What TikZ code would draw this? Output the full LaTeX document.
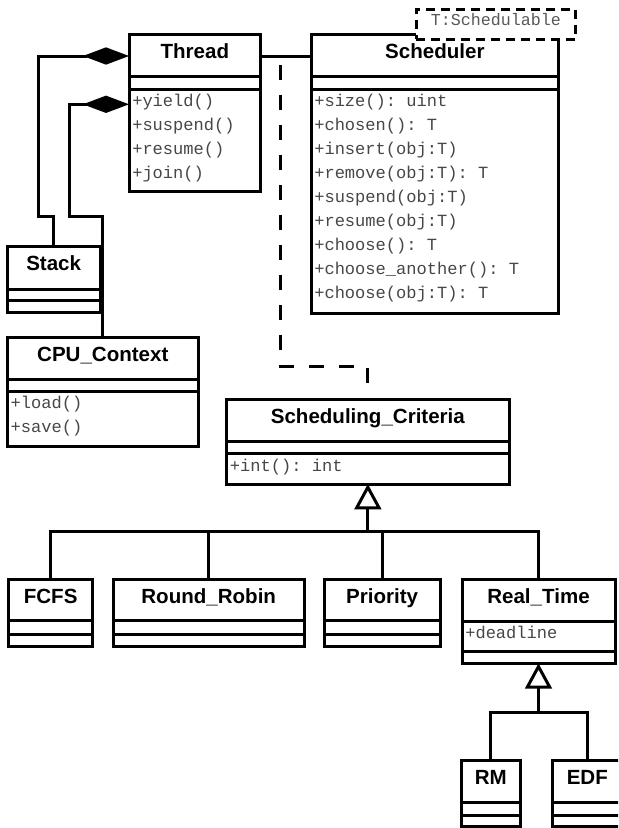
\documentclass[tikz,border=0pt]{standalone}
\usepackage{fontspec}
\setmainfont{Liberation Sans}
\setmonofont{Liberation Mono}
\usetikzlibrary{arrows.meta,calc}
\newcommand\umlbox[5]{\node[clsbox,minimum width={(#4-#2)*0.75pt},minimum height={(#5-#3)*0.75pt}] (#1) at (#2,#3) {};}
\newcommand\umlsep[2]{\draw[sepline] (#1.west |- 0,#2) -- (#1.east |- 0,#2);}
\begin{document}
\begin{tikzpicture}[x=0.75pt,y=-0.75pt,
  clsbox/.style={draw,line width=2.25pt,fill=white,inner sep=0pt,outer sep=0pt,anchor=north west},
  sepline/.style={line width=2.25pt},
  ttl/.style={anchor=base,inner sep=0pt,font=\fontsize{15.4}{18}\selectfont\bfseries},
  meth/.style={anchor=base west,inner sep=0pt,text=black!72,font=\ttfamily\fontsize{12.8}{15}\selectfont},
  conn/.style={line width=2.25pt},
  aggr/.style={conn,-{Diamond[length=34.5pt,width=13pt]}},
  inh/.style={conn,-{Triangle[open,length=19pt,width=20pt,fill=white]}},
  dep/.style={conn,dash pattern=on 11.25pt off 11.25pt,dash phase=15.75pt},
  tmplbox/.style={draw,dash pattern=on 6.75pt off 4.5pt,line width=2.25pt,fill=white,inner sep=0pt,outer sep=0pt,anchor=north west}]
\useasboundingbox (0,0) rectangle (618,828);
\fill[white] (0,0) rectangle (618,828);
\clip (0,0) rectangle (618,828);

% Thread
\umlbox{thread}{129}{34.3}{260.7}{191.7}
\umlsep{thread}{76}\umlsep{thread}{89}
\node[ttl] (threadT) at ($(thread.north)+(0,24)$) {Thread};
\foreach \t [count=\i from 0] in {+yield(),+suspend(),+resume(),+join()}
  \node[meth] (thread-m\i) at ($(thread.north west)+(3,71.7+24*\i)$) {\t};

% Scheduler
\umlbox{sched}{311}{34.3}{558.7}{313.3}
\umlsep{sched}{76}\umlsep{sched}{89}
\node[ttl] (schedT) at ($(sched.north)+(0,24)$) {Scheduler};
\foreach \t [count=\i from 0] in {+size(): uint,+chosen(): T,+insert(obj:T),+remove(obj:T): T,+suspend(obj:T),+resume(obj:T),+choose(): T,+choose\_another(): T,+choose(obj:T): T}
  \node[meth] (sched-m\i) at ($(sched.north west)+(3,71.7+24*\i)$) {\t};

% Template parameter
\node[tmplbox,minimum width={(575.7-416)*0.75pt},minimum height={(39.3-9.3)*0.75pt}] (tmpl) at (416,9.3) {};
\node[meth,anchor=base,text=black!65,font=\ttfamily\fontsize{12.5}{15}\selectfont] (tmplT) at ($(tmpl.north)+(0,16.7)$) {T:Schedulable};

% Stack
\umlbox{stack}{7.3}{246}{100}{312.3}
\umlsep{stack}{289}\umlsep{stack}{300.3}
\node[ttl] (stackT) at ($(stack.north)+(0,24)$) {Stack};

% CPU_Context
\umlbox{cpu}{7.3}{337.3}{198.3}{446}
\umlsep{cpu}{379.3}\umlsep{cpu}{391}
\node[ttl] (cpuT) at ($(cpu.north)+(0,24)$) {CPU\_Context};
\foreach \t [count=\i from 0] in {+load(),+save()}
  \node[meth] (cpu-m\i) at ($(cpu.north west)+(3,71+24*\i)$) {\t};

% Scheduling_Criteria
\umlbox{sc}{226.7}{399.3}{509}{484}
\umlsep{sc}{441}\umlsep{sc}{453.3}
\node[ttl] (scT) at ($(sc.north)+(0,24)$) {Scheduling\_Criteria};
\node[meth] (sc-m0) at ($(sc.north west)+(3,71.7)$) {+int(): int};

% Children
\umlbox{fcfs}{8.7}{579.3}{92.6}{646}
\umlsep{fcfs}{620.7}\umlsep{fcfs}{634}
\node[ttl] (fcfsT) at ($(fcfs.north)+(0,24)$) {FCFS};

\umlbox{rr}{113.1}{579.3}{304.3}{646}
\umlsep{rr}{620.7}\umlsep{rr}{634}
\node[ttl] (rrT) at ($(rr.north)+(0,24)$) {Round\_Robin};

\umlbox{pr}{324}{579.3}{440.3}{646}
\umlsep{pr}{620.7}\umlsep{pr}{634}
\node[ttl] (prT) at ($(pr.north)+(0,24)$) {Priority};

\umlbox{rt}{462}{579.3}{615}{663.3}
\umlsep{rt}{621.7}\umlsep{rt}{651}
\node[ttl] (rtT) at ($(rt.north)+(0,24)$) {Real\_Time};
\node[meth] (rt-a0) at ($(rt.north west)+(3,58.7)$) {+deadline};

\umlbox{rm}{461.7}{760.5}{520}{826.7}
\umlsep{rm}{802.5}\umlsep{rm}{815.5}
\node[ttl] (rmT) at ($(rm.north)+(0,24)$) {RM};

\umlbox{edf}{552.3}{760.5}{622.3}{826.7}
\umlsep{edf}{802.5}\umlsep{edf}{815.5}
\node[ttl] (edfT) at ($(edf.north)+(0,24)$) {EDF};

% Connectors
\draw[conn] (thread.east |- 0,56) -- (sched.west |- 0,56);
\coordinate (depstart) at ($(thread.east |- 0,56)!0.4!(sched.west |- 0,56)$);
\draw[dep] (depstart) -- (depstart |- 0,366.7) -| (sc.north);

\draw[aggr] (stack.north) -- (stack.north |- 0,216) -- (38,216) -- (38,56) -- (thread.west |- 0,56);
\draw[aggr] (cpu.north) -- (cpu.north |- 0,216) -- (69,216) -- (69,104.3) -- (thread.west |- 0,104.3);

\coordinate (j1) at ($(sc.south)+(0,47.7)$);
\draw[inh] (j1) -- (sc.south);
\draw[conn] (fcfs.north) |- (j1) -| (rt.north);
\draw[conn] (rr.north) -- (rr.north |- j1);
\draw[conn] (pr.north) -- (pr.north |- j1);

\coordinate (j2) at ($(rt.south)+(0,49)$);
\draw[inh] (j2) -- (rt.south);
\draw[conn] (rm.north) |- (j2) -| (edf.north);
\end{tikzpicture}
\end{document}
